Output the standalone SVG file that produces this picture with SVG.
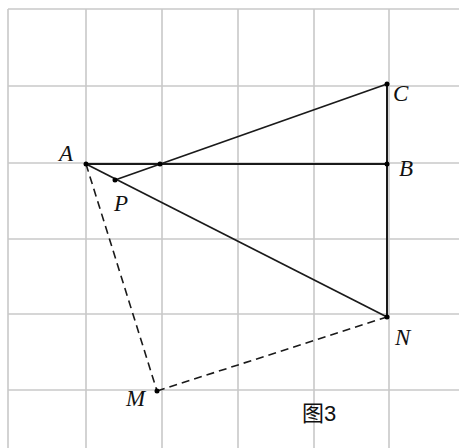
<svg xmlns="http://www.w3.org/2000/svg" width="459" height="448" viewBox="0 0 459 448">
<style>
.grid line{stroke:#c8c8c8;stroke-width:1.6}
.solid{stroke:#1a1a1a;stroke-width:1.7;fill:none}
.dash{stroke:#1a1a1a;stroke-width:1.6;fill:none;stroke-dasharray:8,5}
.pt{fill:#000}
.lbl{font-family:"Liberation Serif","DejaVu Serif",serif;font-style:italic;font-size:23px;fill:#111}
.cap{font-family:"Liberation Sans","Noto Sans CJK SC",sans-serif;font-size:22px;fill:#111}
</style>
<rect width="459" height="448" fill="#fff"/>
<g class="grid" id="grid">
<line x1="8" y1="9" x2="8" y2="448"/>
<line x1="86" y1="9" x2="86" y2="448"/>
<line x1="162" y1="9" x2="162" y2="448"/>
<line x1="238" y1="9" x2="238" y2="448"/>
<line x1="314" y1="9" x2="314" y2="448"/>
<line x1="389" y1="9" x2="389" y2="448"/>
<line x1="8" y1="9" x2="459" y2="9"/>
<line x1="8" y1="86" x2="459" y2="86"/>
<line x1="8" y1="163" x2="459" y2="163"/>
<line x1="8" y1="239" x2="459" y2="239"/>
<line x1="8" y1="314" x2="459" y2="314"/>
<line x1="8" y1="390" x2="459" y2="390"/>
</g>
<g id="connectors">
<line class="solid" x1="86" y1="164" x2="387" y2="164" style="stroke-width:2"/>
<line class="solid" x1="387" y1="84" x2="387" y2="317" style="stroke-width:2"/>
<line class="solid" x1="115" y1="180" x2="387" y2="84"/>
<line class="solid" x1="86" y1="164" x2="387" y2="317"/>
<line class="dash" x1="86" y1="164" x2="157" y2="391"/>
<line class="dash" x1="157" y1="391" x2="387" y2="317"/>
</g>
<g id="A"><circle class="pt" cx="86" cy="164" r="2.5"/><text class="lbl" x="59" y="161">A</text></g>
<g id="P"><circle class="pt" cx="115" cy="180" r="2.5"/><text class="lbl" x="114" y="211">P</text></g>
<g id="Q"><circle class="pt" cx="160" cy="164" r="2.5"/></g>
<g id="B"><circle class="pt" cx="387" cy="164" r="2.5"/><text class="lbl" x="399" y="176">B</text></g>
<g id="C"><circle class="pt" cx="387" cy="84" r="2.5"/><text class="lbl" x="393" y="101">C</text></g>
<g id="N"><circle class="pt" cx="387" cy="317" r="2.5"/><text class="lbl" x="395" y="345">N</text></g>
<g id="M"><circle class="pt" cx="157" cy="391" r="2.5"/><text class="lbl" x="126" y="406">M</text></g>
<g id="caption"><text class="cap" x="302" y="421">图3</text></g>
</svg>
